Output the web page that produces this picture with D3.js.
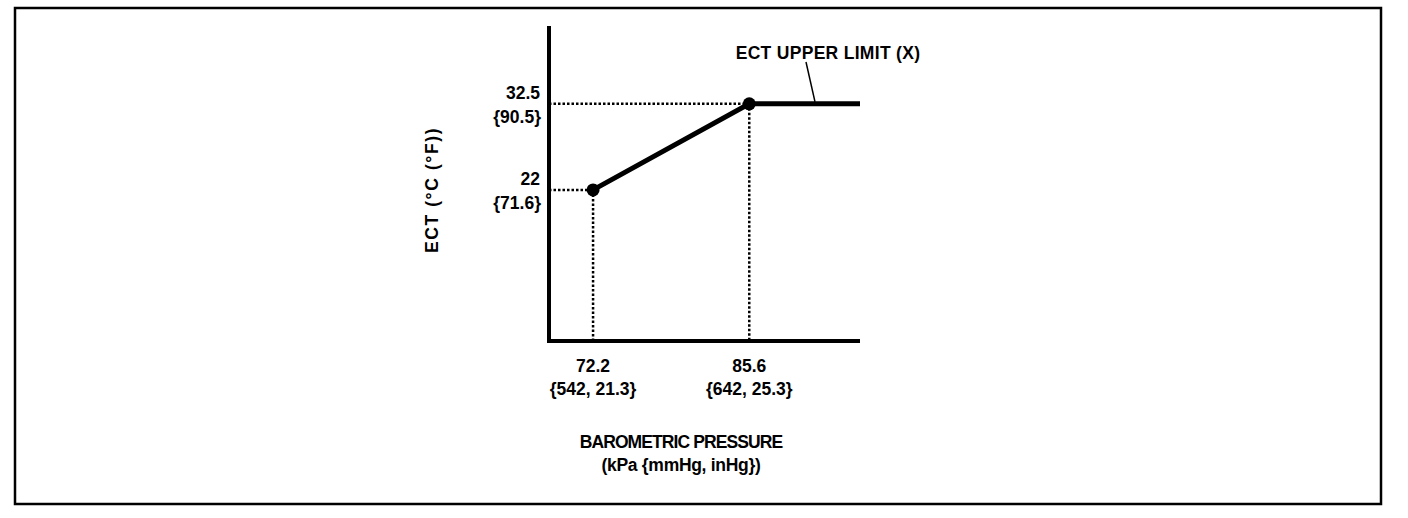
<!DOCTYPE html>
<html><head><meta charset="utf-8">
<script src="https://cdn.jsdelivr.net/npm/d3@7/dist/d3.min.js"></script>
<style>body{margin:0;background:#fff}svg{display:block}text{font-family:"Liberation Sans",Arial,sans-serif;fill:#000;font-weight:bold}</style>
</head><body>
<script>
// Data
const pressureKpa = [72.2, 85.6];
const pressureLabels = ["{542, 21.3}", "{642, 25.3}"];
const ectC = [22, 32.5];
const ectLabels = ["{71.6}", "{90.5}"];
const lineX = [72.2, 85.6, 95.1];
const lineY = [22, 32.5, 32.5];
const xTitle = ["BAROMETRIC PRESSURE", "(kPa {mmHg, inHg})"];
const yTitle = "ECT (\u00B0C (\u00B0F))";
const annotation = "ECT UPPER LIMIT (X)";

const W = 1408, H = 518;
const svg = d3.select("body").append("svg").attr("width", W).attr("height", H);

// border
svg.append("rect").attr("x", 15).attr("y", 8).attr("width", 1366).attr("height", 496)
  .attr("fill", "none").attr("stroke", "#000").attr("stroke-width", 2.5);

const x = d3.scaleLinear().domain([68.42, 95.1]).range([549, 860]);
const y = d3.scaleLinear().domain([3.56, 42.0]).range([341, 26]);

const fs = 17.5;

// dotted guides
pressureKpa.forEach((p, i) => {
  svg.append("line").attr("x1", x(x.domain()[0])).attr("x2", x(p)).attr("y1", y(ectC[i])).attr("y2", y(ectC[i]))
    .attr("stroke", "#000").attr("stroke-width", 2.5).attr("stroke-dasharray", "2.5,2");
  svg.append("line").attr("x1", x(p)).attr("x2", x(p)).attr("y1", y(ectC[i])).attr("y2", y(y.domain()[0]))
    .attr("stroke", "#000").attr("stroke-width", 2.5).attr("stroke-dasharray", "2.5,2");
});

// axes (plain lines, no ticks)
svg.append("path")
  .attr("d", `M${x(x.domain()[0])},${y(y.domain()[1])}V${y(y.domain()[0])}H${x(x.domain()[1])}`)
  .attr("fill", "none").attr("stroke", "#000").attr("stroke-width", 4);

// main line
const line = d3.line().x((d, i) => x(lineX[i])).y((d, i) => y(lineY[i]));
svg.append("path").datum(lineX).attr("d", line).attr("fill", "none")
  .attr("stroke", "#000").attr("stroke-width", 5);

// points
pressureKpa.forEach((p, i) => {
  svg.append("circle").attr("cx", x(p)).attr("cy", y(ectC[i])).attr("r", 6.5).attr("fill", "#000");
});

// y labels
ectC.forEach((v, i) => {
  svg.append("text").attr("x", 540).attr("y", y(v) - 5).attr("text-anchor", "end")
    .attr("font-size", fs).text(String(v));
  svg.append("text").attr("x", 541).attr("y", y(v) + 19).attr("text-anchor", "end")
    .attr("font-size", fs).text(ectLabels[i]);
});

// x labels
pressureKpa.forEach((p, i) => {
  svg.append("text").attr("x", x(p)).attr("y", 372).attr("text-anchor", "middle")
    .attr("font-size", fs).text(String(p));
  svg.append("text").attr("x", x(p)).attr("y", 395).attr("text-anchor", "middle")
    .attr("font-size", fs).text(pressureLabels[i]);
});

// x title
xTitle.forEach((t, i) => {
  svg.append("text").attr("x", 681).attr("y", 448 + i * 23).attr("text-anchor", "middle")
    .attr("font-size", fs).attr("letter-spacing", i === 0 ? -0.9 : -0.3).text(t);
});

// y title
svg.append("text").attr("transform", "translate(438,190) rotate(-90)").attr("text-anchor", "middle")
  .attr("font-size", fs).attr("letter-spacing", 1.6).text(yTitle);

// annotation
svg.append("text").attr("x", 828).attr("y", 59).attr("text-anchor", "middle")
  .attr("font-size", fs).attr("letter-spacing", 0.3).text(annotation);
svg.append("line").attr("x1", 806).attr("y1", 62).attr("x2", 815).attr("y2", y(32.5) - 2)
  .attr("stroke", "#000").attr("stroke-width", 1.5);
</script>
</body></html>
